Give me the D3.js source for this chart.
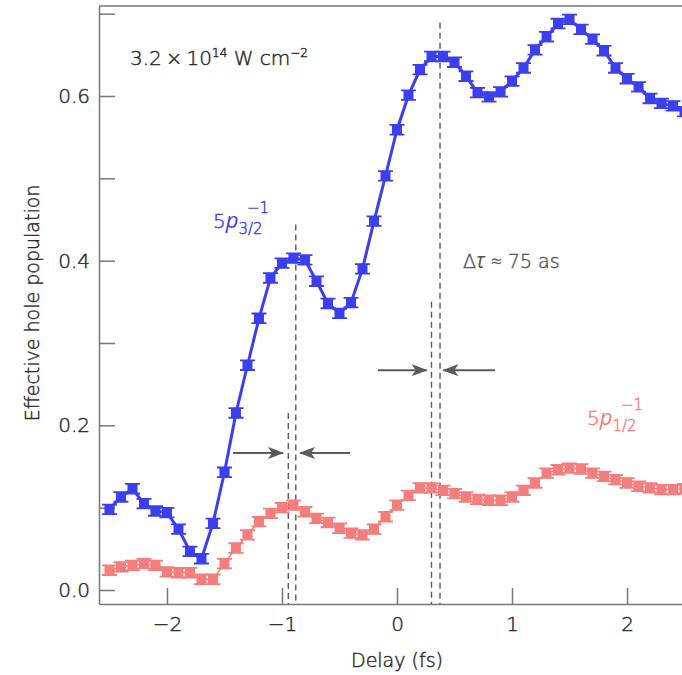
<!DOCTYPE html>
<html>
<head>
<meta charset="utf-8">
<script src="https://cdn.jsdelivr.net/npm/d3@7"></script>
<style>
  body { margin: 0; background: #fff; }
  svg text { font-family: "DejaVu Sans", "Open Sans", sans-serif; font-weight: 300; }
  svg text.txt { stroke-width: 0.45px; }
  tspan.it { font-family: "Open Sans", sans-serif; font-style: italic; font-weight: 400; stroke: none; }
</style>
</head>
<body>
<div class="container"></div>
<script>
// delay grid (fs), one point every 0.1 fs
const delays = [-2.5,-2.4,-2.3,-2.2,-2.1,-2.0,-1.9,-1.8,-1.7,-1.6,-1.5,-1.4,-1.3,-1.2,-1.1,-1.0,-0.9,-0.8,-0.7,-0.6,
  -0.5,-0.4,-0.3,-0.2,-0.1,0.0,0.1,0.2,0.3,0.4,0.5,0.6,0.7,0.8,0.9,1.0,1.1,1.2,1.3,1.4,1.5,1.6,1.7,1.8,1.9,2.0,2.1,2.2,2.3,2.4,2.5];

// 5p3/2 hole population (blue)
const p32 = [0.098,0.113,0.123,0.105,0.096,0.094,0.074,0.047,0.038,0.081,0.143,0.215,0.273,0.330,0.379,0.397,0.403,0.401,0.375,0.348,
  0.336,0.349,0.390,0.448,0.503,0.559,0.601,0.632,0.648,0.648,0.641,0.624,0.604,0.599,0.605,0.618,0.634,0.656,0.672,0.688,0.693,0.681,0.669,0.655,0.634,0.621,0.611,0.597,0.591,0.588,0.581];

// 5p1/2 hole population (red)
const p12 = [0.024,0.028,0.030,0.032,0.030,0.022,0.021,0.021,0.013,0.013,0.032,0.051,0.067,0.083,0.093,0.100,0.103,0.095,0.087,0.082,
  0.075,0.069,0.067,0.074,0.089,0.103,0.115,0.124,0.124,0.121,0.117,0.113,0.110,0.109,0.109,0.113,0.121,0.130,0.142,0.146,0.148,0.147,0.142,0.138,0.134,0.130,0.126,0.124,0.122,0.122,0.123];

const errBar = 0.0058;

const xTicks = [-2, -1, 0, 1, 2];
const yMajor = [0.0, 0.2, 0.4, 0.6];
const yMinor = [0.1, 0.3, 0.5, 0.7];

// dashed markers at the peaks: [delay, top value]
const peakLines = [[-0.88, 0.444], [-0.945, 0.215], [0.30, 0.35], [0.374, 0.689]];
// arrows: [from, to, level]
const arrows = [[-1.426, -0.991, 0.1665], [-0.409, -0.843, 0.1665], [-0.165, 0.258, 0.267], [0.852, 0.403, 0.267]];

const W = 682, H = 675;
const blue = '#3b3ff0', red = '#f57d7b', ink = '#2a2a2a', gray = '#5a5a5a';

const x = d3.scaleLinear().domain([-2.591, 2.478]).range([99, 682]);
const y = d3.scaleLinear().domain([-0.017, 0.7093]).range([604, 6]);

const svg = d3.select('.container').append('svg')
  .attr('width', W).attr('height', H);

// top frame line
svg.append('line')
  .attr('x1', 99).attr('x2', W).attr('y1', 6).attr('y2', 6)
  .attr('stroke', '#777').attr('stroke-width', 1.5);

// axes, ticks pointing inward
const xAxis = svg.append('g').attr('transform', 'translate(0,604)')
  .call(d3.axisBottom(x).tickValues(xTicks).tickSizeInner(-16).tickSizeOuter(0).tickPadding(13)
    .tickFormat(d => d < 0 ? '\u2212' + Math.abs(d) : d));
const yAxis = svg.append('g').attr('transform', 'translate(99,0)')
  .call(d3.axisLeft(y).tickValues(yMajor.concat(yMinor)).tickSizeInner(-16).tickSizeOuter(0).tickPadding(9)
    .tickFormat(d => yMajor.includes(d) ? d.toFixed(1) : ''));

[xAxis, yAxis].forEach(g => {
  g.select('.domain').attr('stroke', '#777').attr('stroke-width', 1.5);
  g.selectAll('.tick line').attr('stroke', '#777').attr('stroke-width', 1.5);
  g.selectAll('.tick text').attr('class', 'txt').attr('fill', ink).attr('stroke', ink)
    .style('font-size', '20px');
});

svg.append('text').attr('class', 'txt').attr('x', 397).attr('y', 667).attr('text-anchor', 'middle')
  .attr('fill', ink).attr('stroke', ink).style('font-size', '19px').text('Delay (fs)');
svg.append('text').attr('class', 'txt').attr('transform', 'translate(39,303) rotate(-90)').attr('text-anchor', 'middle')
  .attr('fill', ink).attr('stroke', ink).style('font-size', '19px').text('Effective hole population');

// dashed vertical lines
svg.selectAll('line.peak').data(peakLines).join('line')
  .attr('class', 'peak')
  .attr('x1', d => x(d[0])).attr('x2', d => x(d[0]))
  .attr('y1', d => y(d[1])).attr('y2', 604)
  .attr('stroke', gray).attr('stroke-width', 1.4).attr('stroke-dasharray', '6,4');

// arrows
svg.append('defs').append('marker')
  .attr('id', 'head').attr('viewBox', '0 0 16 12').attr('refX', 15).attr('refY', 6)
  .attr('markerWidth', 16).attr('markerHeight', 12).attr('markerUnits', 'userSpaceOnUse')
  .attr('orient', 'auto')
  .append('path').attr('d', 'M0,0 L16,6 L0,12 L4,6 Z').attr('fill', gray);

svg.selectAll('line.arrow').data(arrows).join('line')
  .attr('class', 'arrow')
  .attr('x1', d => x(d[0])).attr('x2', d => x(d[1]))
  .attr('y1', d => y(d[2])).attr('y2', d => y(d[2]))
  .attr('stroke', gray).attr('stroke-width', 2).attr('marker-end', 'url(#head)');

// series
function drawSeries(vals, color, lw) {
  const pts = delays.map((d, i) => [d, vals[i]]).filter(p => x(p[0]) <= W + 6);
  const g = svg.append('g');
  g.append('path').datum(pts)
    .attr('d', d3.line().x(p => x(p[0])).y(p => y(p[1])))
    .attr('fill', 'none').attr('stroke', color).attr('stroke-width', lw);
  const eb = g.selectAll('g.pt').data(pts).join('g').attr('class', 'pt');
  eb.append('path')
    .attr('d', p => {
      const cx = x(p[0]), t = y(p[1] + errBar), b = y(p[1] - errBar);
      return `M${cx},${t}V${b}M${cx - 7.5},${t}H${cx + 7.5}M${cx - 7.5},${b}H${cx + 7.5}`;
    })
    .attr('stroke', color).attr('stroke-width', 1.8).attr('fill', 'none');
  eb.append('rect')
    .attr('x', p => x(p[0]) - 5).attr('y', p => y(p[1]) - 5)
    .attr('width', 10).attr('height', 10).attr('fill', color);
}
drawSeries(p12, red, 1.5);
drawSeries(p32, blue, 3);

// annotations
const ann = svg.append('text').attr('class', 'txt').attr('x', 130).attr('y', 65)
  .attr('fill', ink).attr('stroke', ink).style('font-size', '20px');
ann.append('tspan').text('3.2\u2009\u00d7\u200910');
ann.append('tspan').attr('dy', -8).style('font-size', '12px').text('14');
ann.append('tspan').attr('dy', 8).text(' W cm');
ann.append('tspan').attr('dy', -8).style('font-size', '12px').text('\u22122');

function orbital(px, py, sub, color) {
  const t = svg.append('text').attr('class', 'txt').attr('x', px).attr('y', py)
    .attr('fill', color).attr('stroke', color).style('font-size', '20px');
  t.append('tspan').text('5');
  t.append('tspan').attr('class', 'it').style('font-size', '22px').text('p');
  t.append('tspan').attr('dy', 6).style('font-size', '15px').text(sub);
  svg.append('text').attr('class', 'txt').attr('x', px + 34).attr('y', py - 15)
    .attr('fill', color).attr('stroke', color).style('font-size', '15px').text('\u22121');
}
orbital(213, 228, '3/2', blue);
orbital(587, 425, '1/2', red);

const dt = svg.append('text').attr('class', 'txt').attr('x', 463).attr('y', 268)
  .attr('fill', '#555').attr('stroke', '#555').style('font-size', '19px');
dt.append('tspan').text('\u0394');
dt.append('tspan').attr('class', 'it').style('font-size', '21px').text('\u03c4');
dt.append('tspan').text(' \u2248 75 as');
</script>
</body>
</html>
